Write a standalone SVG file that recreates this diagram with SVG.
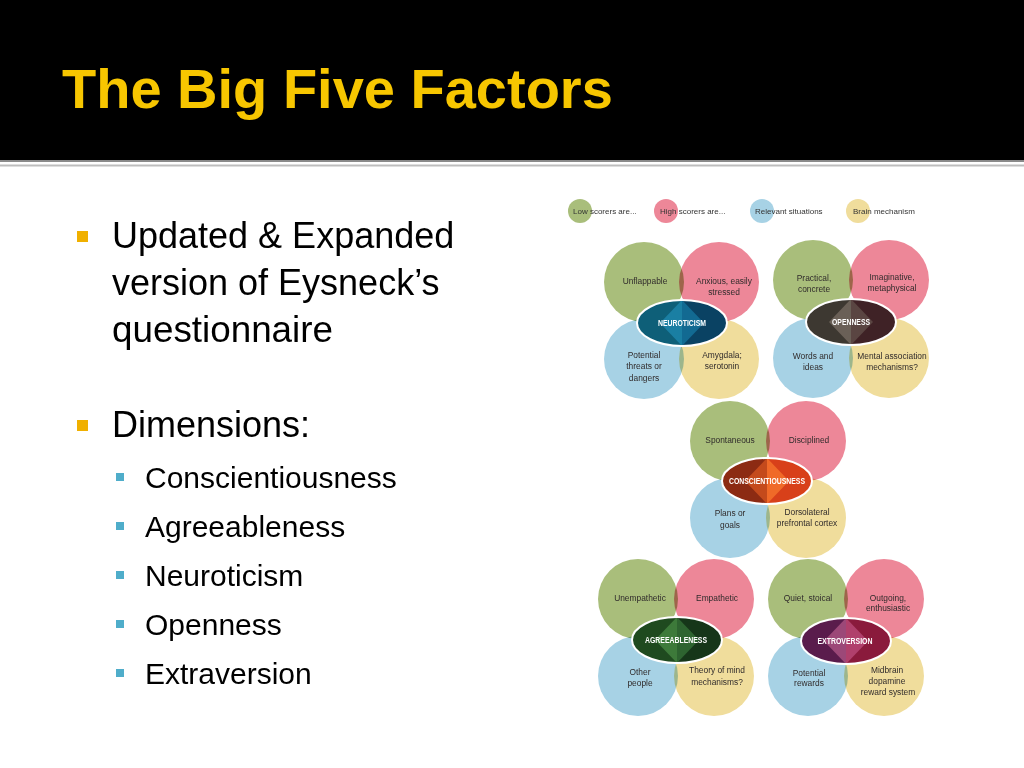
<svg xmlns="http://www.w3.org/2000/svg" width="1024" height="768" viewBox="0 0 1024 768">
<defs>
<style>
.title{font-family:"Liberation Sans",Arial,sans-serif;font-weight:bold;font-size:56px;fill:#f7c600}
.body{font-family:"Liberation Sans",Arial,sans-serif;font-size:36px;fill:#000}
.sub{font-family:"Liberation Sans",Arial,sans-serif;font-size:30px;fill:#000}
.leg{font-family:"Liberation Sans",Arial,sans-serif;font-size:8px;fill:#333}
.lbl{font-family:"Liberation Sans",Arial,sans-serif;font-size:8.4px;fill:#302b2b;text-anchor:middle}
.fac{font-family:"Liberation Sans",Arial,sans-serif;font-size:9px;font-weight:bold;fill:#fff;text-anchor:middle}
.g{fill:#a9be7b}.p{fill:#ed8798}.b{fill:#a7d2e5}.y{fill:#f0dd9c}
.c{mix-blend-mode:multiply}
.ring{fill:none;stroke:#fff;stroke-width:2}
.bul{fill:#f0b000}.sbul{fill:#4fadca}
</style>
<clipPath id="clipN"><ellipse cx="682" cy="323" rx="45" ry="23"/></clipPath>
<clipPath id="clipO"><ellipse cx="851" cy="322" rx="45" ry="23"/></clipPath>
<clipPath id="clipC"><ellipse cx="767" cy="481" rx="45" ry="23"/></clipPath>
<clipPath id="clipA"><ellipse cx="677" cy="640" rx="45" ry="23"/></clipPath>
<clipPath id="clipE"><ellipse cx="846" cy="641" rx="45" ry="23"/></clipPath>
</defs>

<rect x="0" y="0" width="1024" height="768" fill="#fff"/>

<g id="header">
<rect x="0" y="0" width="1024" height="160" fill="#000"/>
<rect x="0" y="160" width="1024" height="2" fill="#8a8a8a"/>
<rect x="0" y="164.5" width="1024" height="2" fill="#bdbdbd"/>
<text class="title" x="62" y="108">The Big Five Factors</text>
</g>

<g id="bullets">
<rect class="bul" x="77" y="231" width="11" height="11"/>
<text class="body" x="112" y="248">Updated &amp; Expanded</text>
<text class="body" x="112" y="295">version of Eysneck’s</text>
<text class="body" x="112" y="342" textLength="221" lengthAdjust="spacingAndGlyphs">questionnaire</text>
<rect class="bul" x="77" y="420" width="11" height="11"/>
<text class="body" x="112" y="437">Dimensions:</text>
<rect class="sbul" x="116" y="473" width="8" height="8"/>
<text class="sub" x="145" y="488">Conscientiousness</text>
<rect class="sbul" x="116" y="522" width="8" height="8"/>
<text class="sub" x="145" y="537">Agreeableness</text>
<rect class="sbul" x="116" y="571" width="8" height="8"/>
<text class="sub" x="145" y="586">Neuroticism</text>
<rect class="sbul" x="116" y="620" width="8" height="8"/>
<text class="sub" x="145" y="635">Openness</text>
<rect class="sbul" x="116" y="669" width="8" height="8"/>
<text class="sub" x="145" y="684">Extraversion</text>
</g>

<g id="legend">
<g id="legend-low"><circle class="g c" cx="580" cy="211" r="12"/><text class="leg" x="573" y="214">Low scorers are...</text></g>
<g id="legend-high"><circle class="p c" cx="666" cy="211" r="12"/><text class="leg" x="660" y="214">High scorers are...</text></g>
<g id="legend-situations"><circle class="b c" cx="762" cy="211" r="12"/><text class="leg" x="755" y="214">Relevant situations</text></g>
<g id="legend-brain"><circle class="y c" cx="858" cy="211" r="12"/><text class="leg" x="853" y="214">Brain mechanism</text></g>
</g>

<g id="connectors"></g>

<g id="neuroticism">
<circle class="g c" cx="644" cy="282" r="40"/>
<circle class="p c" cx="719" cy="282" r="40"/>
<circle class="b c" cx="644" cy="359" r="40"/>
<circle class="y c" cx="719" cy="359" r="40"/>
<g clip-path="url(#clipN)">
<rect x="637" y="300" width="45" height="46" fill="#0e5f78"/>
<rect x="682" y="300" width="45" height="46" fill="#0a4263"/>
<polygon points="682,300 660,323 682,346" fill="#1a7fa3"/>
<polygon points="682,300 704,323 682,346" fill="#126a92"/>
</g>
<ellipse class="ring" cx="682" cy="323" rx="45" ry="23"/>
<text class="fac" x="682" y="326" textLength="48" lengthAdjust="spacingAndGlyphs">NEUROTICISM</text>
<text class="lbl" x="645" y="284">Unflappable</text>
<text class="lbl" x="724" y="284">Anxious, easily</text>
<text class="lbl" x="724" y="295">stressed</text>
<text class="lbl" x="644" y="358">Potential</text>
<text class="lbl" x="644" y="369">threats or</text>
<text class="lbl" x="644" y="381">dangers</text>
<text class="lbl" x="722" y="358">Amygdala;</text>
<text class="lbl" x="722" y="369">serotonin</text>
</g>

<g id="openness">
<circle class="g c" cx="813" cy="280" r="40"/>
<circle class="p c" cx="889" cy="280" r="40"/>
<circle class="b c" cx="813" cy="358" r="40"/>
<circle class="y c" cx="889" cy="358" r="40"/>
<g clip-path="url(#clipO)">
<rect x="806" y="299" width="45" height="46" fill="#3d3831"/>
<rect x="851" y="299" width="45" height="46" fill="#3f2226"/>
<polygon points="851,299 829,322 851,345" fill="#6a6057"/>
<polygon points="851,299 873,322 851,345" fill="#5a4542"/>
</g>
<ellipse class="ring" cx="851" cy="322" rx="45" ry="23"/>
<text class="fac" x="851" y="325" textLength="38" lengthAdjust="spacingAndGlyphs">OPENNESS</text>
<text class="lbl" x="814" y="281">Practical,</text>
<text class="lbl" x="814" y="292">concrete</text>
<text class="lbl" x="892" y="280">Imaginative,</text>
<text class="lbl" x="892" y="291">metaphysical</text>
<text class="lbl" x="813" y="359">Words and</text>
<text class="lbl" x="813" y="370">ideas</text>
<text class="lbl" x="892" y="359">Mental association</text>
<text class="lbl" x="892" y="370">mechanisms?</text>
</g>

<g id="conscientiousness">
<circle class="g c" cx="730" cy="441" r="40"/>
<circle class="p c" cx="806" cy="441" r="40"/>
<circle class="b c" cx="730" cy="518" r="40"/>
<circle class="y c" cx="806" cy="518" r="40"/>
<g clip-path="url(#clipC)">
<rect x="722" y="458" width="45" height="46" fill="#8c2b13"/>
<rect x="767" y="458" width="45" height="46" fill="#d8401a"/>
<polygon points="767,458 745,481 767,504" fill="#c44a1c"/>
<polygon points="767,458 789,481 767,504" fill="#f06a28"/>
</g>
<ellipse class="ring" cx="767" cy="481" rx="45" ry="23"/>
<text class="fac" x="767" y="484" textLength="76" lengthAdjust="spacingAndGlyphs">CONSCIENTIOUSNESS</text>
<text class="lbl" x="730" y="443">Spontaneous</text>
<text class="lbl" x="809" y="443">Disciplined</text>
<text class="lbl" x="730" y="516">Plans or</text>
<text class="lbl" x="730" y="528">goals</text>
<text class="lbl" x="807" y="515">Dorsolateral</text>
<text class="lbl" x="807" y="526">prefrontal cortex</text>
</g>

<g id="agreeableness">
<circle class="g c" cx="638" cy="599" r="40"/>
<circle class="p c" cx="714" cy="599" r="40"/>
<circle class="b c" cx="638" cy="676" r="40"/>
<circle class="y c" cx="714" cy="676" r="40"/>
<g clip-path="url(#clipA)">
<rect x="632" y="617" width="45" height="46" fill="#1f4a1f"/>
<rect x="677" y="617" width="45" height="46" fill="#163619"/>
<polygon points="677,617 655,640 677,663" fill="#3d7a3a"/>
<polygon points="677,617 699,640 677,663" fill="#2e6430"/>
</g>
<ellipse class="ring" cx="677" cy="640" rx="45" ry="23"/>
<text class="fac" x="676" y="643" textLength="62" lengthAdjust="spacingAndGlyphs">AGREEABLENESS</text>
<text class="lbl" x="640" y="601">Unempathetic</text>
<text class="lbl" x="717" y="601">Empathetic</text>
<text class="lbl" x="640" y="675">Other</text>
<text class="lbl" x="640" y="686">people</text>
<text class="lbl" x="717" y="673">Theory of mind</text>
<text class="lbl" x="717" y="685">mechanisms?</text>
</g>

<g id="extroversion">
<circle class="g c" cx="808" cy="599" r="40"/>
<circle class="p c" cx="884" cy="599" r="40"/>
<circle class="b c" cx="808" cy="676" r="40"/>
<circle class="y c" cx="884" cy="676" r="40"/>
<g clip-path="url(#clipE)">
<rect x="801" y="618" width="45" height="46" fill="#5a1c4c"/>
<rect x="846" y="618" width="45" height="46" fill="#8a1a3c"/>
<polygon points="846,618 824,641 846,664" fill="#9c4878"/>
<polygon points="846,618 868,641 846,664" fill="#b0406c"/>
</g>
<ellipse class="ring" cx="846" cy="641" rx="45" ry="23"/>
<text class="fac" x="845" y="644" textLength="55" lengthAdjust="spacingAndGlyphs">EXTROVERSION</text>
<text class="lbl" x="808" y="601">Quiet, stoical</text>
<text class="lbl" x="888" y="601">Outgoing,</text>
<text class="lbl" x="888" y="611">enthusiastic</text>
<text class="lbl" x="809" y="676">Potential</text>
<text class="lbl" x="809" y="686">rewards</text>
<text class="lbl" x="887" y="673">Midbrain</text>
<text class="lbl" x="887" y="684">dopamine</text>
<text class="lbl" x="888" y="695">reward system</text>
</g>
</svg>
